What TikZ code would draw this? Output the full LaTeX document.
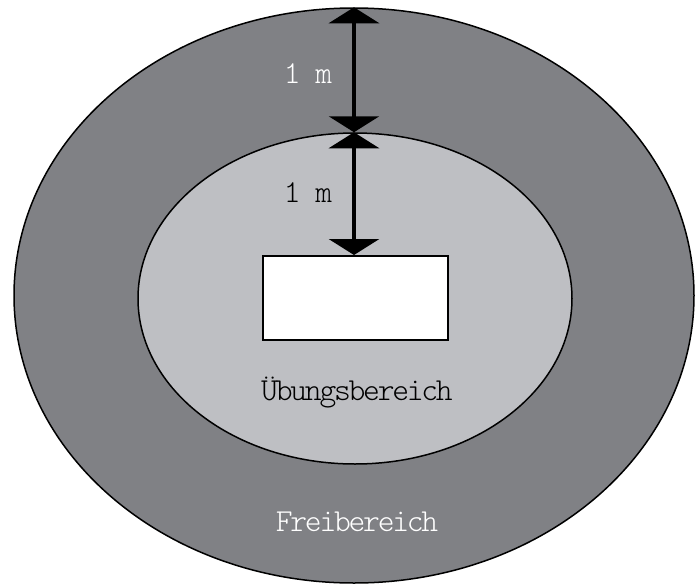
\documentclass[tikz,border=0pt]{standalone}
\usepackage{fontspec}
\newfontfamily\labelfont[LetterSpace=-7]{Latin Modern Mono Light}
\usetikzlibrary{shapes.geometric,arrows.meta}
\definecolor{outergray}{RGB}{128,129,133}
\definecolor{innergray}{RGB}{190,191,195}
\tikzset{
  zone/.style={ellipse,draw=black,line width=1.5pt,inner sep=0pt},
  dim/.style={line width=4pt,{Triangle[width=50pt,length=16pt]}-{Triangle[width=50pt,length=16pt]}},
  lbl/.style={font=\labelfont\fontsize{32}{32}\selectfont,anchor=base,inner sep=0pt}
}
\begin{document}
\begin{tikzpicture}[x=1pt,y=-1pt]
\useasboundingbox (0,0) rectangle (697,584);
\node[zone,fill=outergray,minimum width=680pt,minimum height=575pt] (outer) at (354,295.5) {};
\node[zone,fill=innergray,minimum width=434pt,minimum height=331pt] (inner) at (355,298.5) {};
\node[draw=black,fill=white,line width=2pt,minimum width=185pt,minimum height=84pt,inner sep=0pt] (area) at (355.5,298) {};
\draw[dim] (outer.north) -- (outer.north |- inner.north);
\draw[dim] (outer.north |- inner.north) -- (outer.north |- area.north);
\node[lbl,text=white] (m1) at (308,83) {1 m};
\node[lbl,text=black] (m2) at (308,202) {1 m};
\node[lbl,text=black] (ub) at (357,400) {Übungsbereich};
\node[lbl,text=white] (fb) at (357,531) {Freibereich};
\end{tikzpicture}
\end{document}
